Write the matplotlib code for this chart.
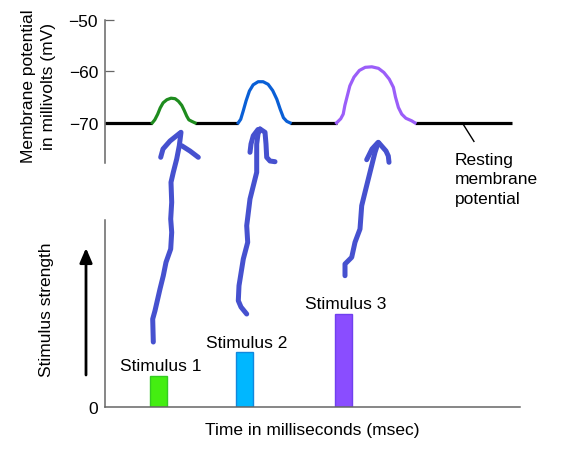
import matplotlib
matplotlib.use('Agg')
import matplotlib.pyplot as plt
from matplotlib.lines import Line2D

plt.rcParams['font.family'] = ['Liberation Sans', 'DejaVu Sans']
plt.rcParams['font.size'] = 12.5

# membrane potential trace (time in ms, potential in mV)
rest_segments = [(0, 11.4), (21.7, 32.1), (44.6, 55.8), (74.7, 98.1)]
rest_mv = -70

green_t = [11.4, 12.0, 12.7, 13.3, 14.0, 14.9, 15.9, 16.9, 17.7, 18.5, 19.1, 19.7, 20.2, 20.9, 21.7]
green_mv = [-70, -69.4, -68.3, -67.1, -66.1, -65.5, -65.2, -65.3, -65.8, -66.6, -67.6, -68.7, -69.4, -69.7, -70]

blue_t = [32.1, 32.7, 33.3, 34.0, 34.8, 35.7, 36.9, 38.1, 39.3, 40.4, 41.4, 42.2, 43.0, 43.8, 44.6]
blue_mv = [-70, -69.3, -67.7, -65.7, -63.8, -62.6, -62.0, -62.0, -62.5, -63.7, -65.4, -67.3, -69.0, -69.7, -70]

purple_t = [55.8, 56.8, 57.4, 57.8, 58.4, 59.0, 60.0, 61.3, 62.7, 64.3, 65.9, 67.2, 68.5, 69.5,
            70.0, 70.7, 71.5, 72.5, 73.9, 74.7]
purple_mv = [-70, -69.2, -68.3, -66.6, -64.7, -62.8, -61.1, -59.8, -59.2, -59.1, -59.4, -60.2, -61.5, -63.1,
             -65.0, -67.0, -68.3, -69.1, -69.6, -70]

yticks_top = [-50, -60, -70]

# stimuli
stim_names = ['Stimulus 1', 'Stimulus 2', 'Stimulus 3']
stim_t = [12.9, 33.6, 57.4]
stim_strength = [1.0, 1.75, 3.0]
stim_colors = ['#44ee11', '#00b7ff', '#8a4dff']
stim_edges = ['#33cc22', '#1188dd', '#7040ee']

# hand drawn arrows (image pixels, origin top-left)
arrow1 = [[(153.3, 343), (152.7, 320), (155, 311.7), (160, 290), (163.3, 276.7), (166, 263.3),
           (170.7, 250), (171.7, 233.3), (170.7, 220), (171.7, 203.3), (171, 183.3),
           (173.3, 173.3), (176.7, 160), (179.3, 146.7), (181, 133.3)],
          [(160.7, 158.3), (163, 150), (170, 142), (180, 134)],
          [(181.7, 146.7), (190, 152), (198.3, 158.3)]]
arrow2 = [[(246.7, 315), (241, 308), (238.3, 301.7), (239, 286.7), (243.3, 260), (247.7, 243.3),
           (246.7, 226.7), (250, 200), (256.7, 173.3), (256.7, 145), (258, 135), (260, 130)],
          [(250, 153.3), (251, 145), (253.3, 136.7), (258, 130.5)],
          [(260, 130), (265, 133.3), (266, 145), (266.7, 158.3), (270, 162), (275, 162.7)]]
arrow3 = [[(345, 276.7), (345, 265), (351.7, 258.3), (355, 243.3), (360, 230), (361.7, 206.7),
           (365, 193.3), (370, 173.3), (375, 153.3), (378.3, 143.3)],
          [(366.7, 160.7), (372, 150), (377.5, 144)],
          [(379, 144), (386, 152), (388.3, 157), (389, 163.3)]]

W, H = 577, 456
fig = plt.figure(figsize=(W / 100, H / 100), dpi=100)


def box(left, top, right, bottom):
    return [left / W, (H - bottom) / H, (right - left) / W, (bottom - top) / H]


gray = '#666666'

# top panel
ax1 = fig.add_axes(box(105, 21, 520, 164))
for s in rest_segments:
    ax1.plot(s, [rest_mv, rest_mv], color='black', lw=2.3, solid_capstyle='butt', clip_on=False)
ax1.plot(green_t, green_mv, color='#1e8c1e', lw=2.3, clip_on=False)
ax1.plot(blue_t, blue_mv, color='#0a5fd6', lw=2.3, clip_on=False)
ax1.plot(purple_t, purple_mv, color='#9b5ef9', lw=2.3, clip_on=False)
ax1.set_xlim(0, 100)
ax1.set_ylim(-77.8, -50)
for sp in ['top', 'right', 'bottom']:
    ax1.spines[sp].set_visible(False)
ax1.spines['left'].set_color(gray)
ax1.spines['left'].set_linewidth(1.1)
ax1.set_xticks([])
ax1.set_yticks(yticks_top)
ax1.set_yticklabels(['\u2212%d' % abs(v) for v in yticks_top])
ax1.tick_params(axis='y', direction='in', length=6.5, width=0.9, color=gray, pad=5)
ax1.set_ylabel('Membrane potential\nin millivolts (mV)', va='center', linespacing=1.4)
ax1.yaxis.set_label_coords(-0.160, 0.542)
ax1.patch.set_visible(False)

ax1.plot([86.1, 88.9], [-70, -73.6], color='black', lw=1.0)
ax1.text(84.3, -75.7, 'Resting\nmembrane\npotential', ha='left', va='top', linespacing=1.35)

# bottom panel
ax2 = fig.add_axes(box(105, 221, 520, 408))
ax2.bar(stim_t, stim_strength, width=4.0, color=stim_colors, edgecolor=stim_edges, linewidth=1.0)
for name, t, v in zip(stim_names, stim_t, stim_strength):
    ax2.annotate(name, (t + 0.6, v), xytext=(0, 2), textcoords='offset points',
                 ha='center', va='bottom')
ax2.set_xlim(0, 100)
ax2.set_ylim(0, 6)
for sp in ['top', 'right']:
    ax2.spines[sp].set_visible(False)
for sp in ['left', 'bottom']:
    ax2.spines[sp].set_color(gray)
    ax2.spines[sp].set_linewidth(1.1)
ax2.set_xticks([])
ax2.set_yticks([0])
ax2.set_yticklabels(['0'])
ax2.tick_params(axis='y', length=0, pad=5)
ax2.set_xlabel('Time in milliseconds (msec)', labelpad=11)
ax2.set_ylabel('Stimulus strength', va='center')
ax2.yaxis.set_label_coords(-0.142, 0.524)
ax2.patch.set_visible(False)

# stimulus strength arrow
ax2.annotate('', xy=(86 / W, (H - 249) / H), xytext=(86 / W, (H - 376) / H),
             xycoords='figure fraction', textcoords='figure fraction',
             arrowprops=dict(arrowstyle='-|>,head_length=0.7,head_width=0.3',
                             color='black', lw=2.0, shrinkA=0, shrinkB=0))

# hand drawn blue arrows
for arrow in [arrow1, arrow2, arrow3]:
    for stroke in arrow:
        xs = [p[0] / W for p in stroke]
        ys = [(H - p[1]) / H for p in stroke]
        fig.add_artist(Line2D(xs, ys, transform=fig.transFigure, color='#4651cf', lw=3.6,
                              solid_capstyle='round', solid_joinstyle='round'))

fig.savefig('out.png', dpi=100)
